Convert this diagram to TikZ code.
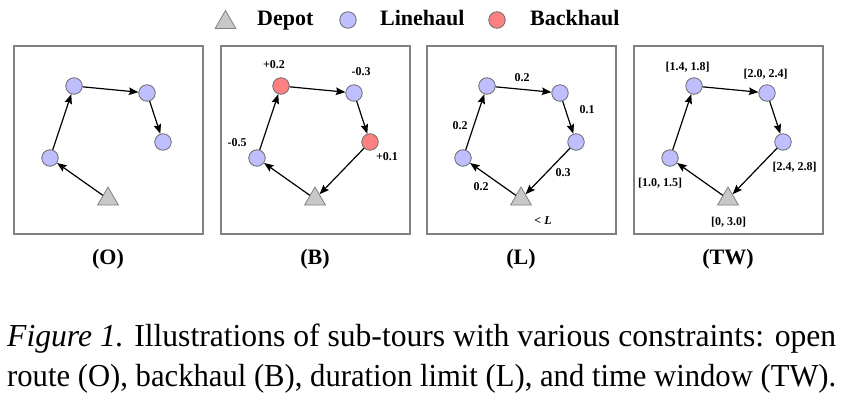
\documentclass[tikz,border=0pt]{standalone}
\usepackage{fontspec}
\setmainfont{Liberation Serif}
\usetikzlibrary{shapes.geometric,arrows.meta}
\definecolor{lh}{RGB}{191,191,255}
\definecolor{bh}{RGB}{255,128,128}
\definecolor{dep}{RGB}{200,200,200}
\definecolor{edgegray}{RGB}{105,105,105}
\definecolor{boxgray}{RGB}{128,128,128}
\tikzset{
 cust/.style={circle,draw=edgegray,line width=0.8pt,fill=lh,minimum size=16.5pt,inner sep=0pt},
 back/.style={cust,fill=bh},
 depot/.style={regular polygon,regular polygon sides=3,draw=boxgray,line width=0.8pt,fill=dep,minimum size=24pt,inner sep=0pt},
 panel/.style={draw=boxgray,line width=1.6pt},
 route/.style={-{Stealth[length=9.5pt,width=7.5pt,inset=1.5pt]},line width=1.2pt},
 lab/.style={font=\fontsize{12}{14}\selectfont\bfseries,inner sep=0pt},
 legend/.style={font=\fontsize{22}{26}\selectfont\bfseries,inner sep=0pt,anchor=base west},
 ptitle/.style={font=\fontsize{22}{26}\selectfont\bfseries,inner sep=0pt},
 captext/.style={font=\fontsize{32}{38}\selectfont,inner sep=0pt,anchor=base west},
}
\begin{document}
\begin{tikzpicture}[x=1pt,y=-1pt]
\useasboundingbox (0,0) rectangle (846,404);
% legend
\node[depot] (legdep) at (225.5,22.5) {};
\node[legend] (legdeptxt) at (257,26) {Depot};
\node[cust] (leglh) at (348,20) {};
\node[legend] (leglhtxt) at (380,26) {Linehaul};
\node[back] (legbh) at (497,20) {};
\node[legend] (legbhtxt) at (530,26) {Backhaul};
% panel O
\begin{scope}
\draw[panel] (14,46) rectangle (203,234);
\node[cust] (o0) at (50,158) {};
\node[cust] (o1) at (74,86) {};
\node[cust] (o2) at (147,93) {};
\node[cust] (o3) at (163,142) {};
\node[depot] (od) at (108,199) {};
\draw[route] (od) -- (o0);
\draw[route] (o0) -- (o1);
\draw[route] (o1) -- (o2);
\draw[route] (o2) -- (o3);
\node[ptitle] (ot) at (108,259) {(O)};
\end{scope}
% panel B
\begin{scope}[xshift=207pt]
\draw[panel] (14,46) rectangle (203,234);
\node[cust] (b0) at (50,158) {};
\node[back] (b1) at (74,86) {};
\node[cust] (b2) at (147,93) {};
\node[back] (b3) at (163,142) {};
\node[depot] (bd) at (108,199) {};
\draw[route] (bd) -- (b0);
\draw[route] (b0) -- (b1);
\draw[route] (b1) -- (b2);
\draw[route] (b2) -- (b3);
\draw[route] (b3) -- (bd);
\node[lab] (bl0) at (30,143) {-0.5};
\node[lab] (bl1) at (67,65) {+0.2};
\node[lab] (bl2) at (154,72) {-0.3};
\node[lab] (bl3) at (180,157) {+0.1};
\node[ptitle] (bt) at (108,259) {(B)};
\end{scope}
% panel L
\begin{scope}[xshift=413pt]
\draw[panel] (14,46) rectangle (203,234);
\node[cust] (l0) at (50,158) {};
\node[cust] (l1) at (74,86) {};
\node[cust] (l2) at (147,93) {};
\node[cust] (l3) at (163,142) {};
\node[depot] (ld) at (108,199) {};
\draw[route] (ld) -- (l0);
\draw[route] (l0) -- (l1);
\draw[route] (l1) -- (l2);
\draw[route] (l2) -- (l3);
\draw[route] (l3) -- (ld);
\node[lab] (ll0) at (68,187) {0.2};
\node[lab] (ll1) at (47,126) {0.2};
\node[lab] (ll2) at (109,78) {0.2};
\node[lab] (ll3) at (174,110) {0.1};
\node[lab] (ll4) at (150,173) {0.3};
\node[lab] (llim) at (130,221) {< \textit{L}};
\node[ptitle] (lt) at (108,259) {(L)};
\end{scope}
% panel TW
\begin{scope}[xshift=620pt]
\draw[panel] (14,46) rectangle (203,234);
\node[cust] (t0) at (50,158) {};
\node[cust] (t1) at (74,86) {};
\node[cust] (t2) at (147,93) {};
\node[cust] (t3) at (163,142) {};
\node[depot] (td) at (108,199) {};
\draw[route] (td) -- (t0);
\draw[route] (t0) -- (t1);
\draw[route] (t1) -- (t2);
\draw[route] (t2) -- (t3);
\draw[route] (t3) -- (td);
\node[lab] (tl0) at (40,183) {[1.0, 1.5]};
\node[lab] (tl1) at (67.5,67) {[1.4, 1.8]};
\node[lab] (tl2) at (145.5,74) {[2.0, 2.4]};
\node[lab] (tl3) at (174.5,167) {[2.4, 2.8]};
\node[lab] (tld) at (108.5,222) {[0, 3.0]};
\node[ptitle] (tt) at (108,259) {(TW)};
\end{scope}
% caption
\node[captext] (cap1) at (7,346) {\resizebox{829pt}{\height}{\textit{Figure 1.} Illustrations of sub-tours with various constraints: open}};
\node[captext] (cap2) at (7,386) {\resizebox{829pt}{\height}{route (O), backhaul (B), duration limit (L), and time window (TW).}};
\end{tikzpicture}
\end{document}
